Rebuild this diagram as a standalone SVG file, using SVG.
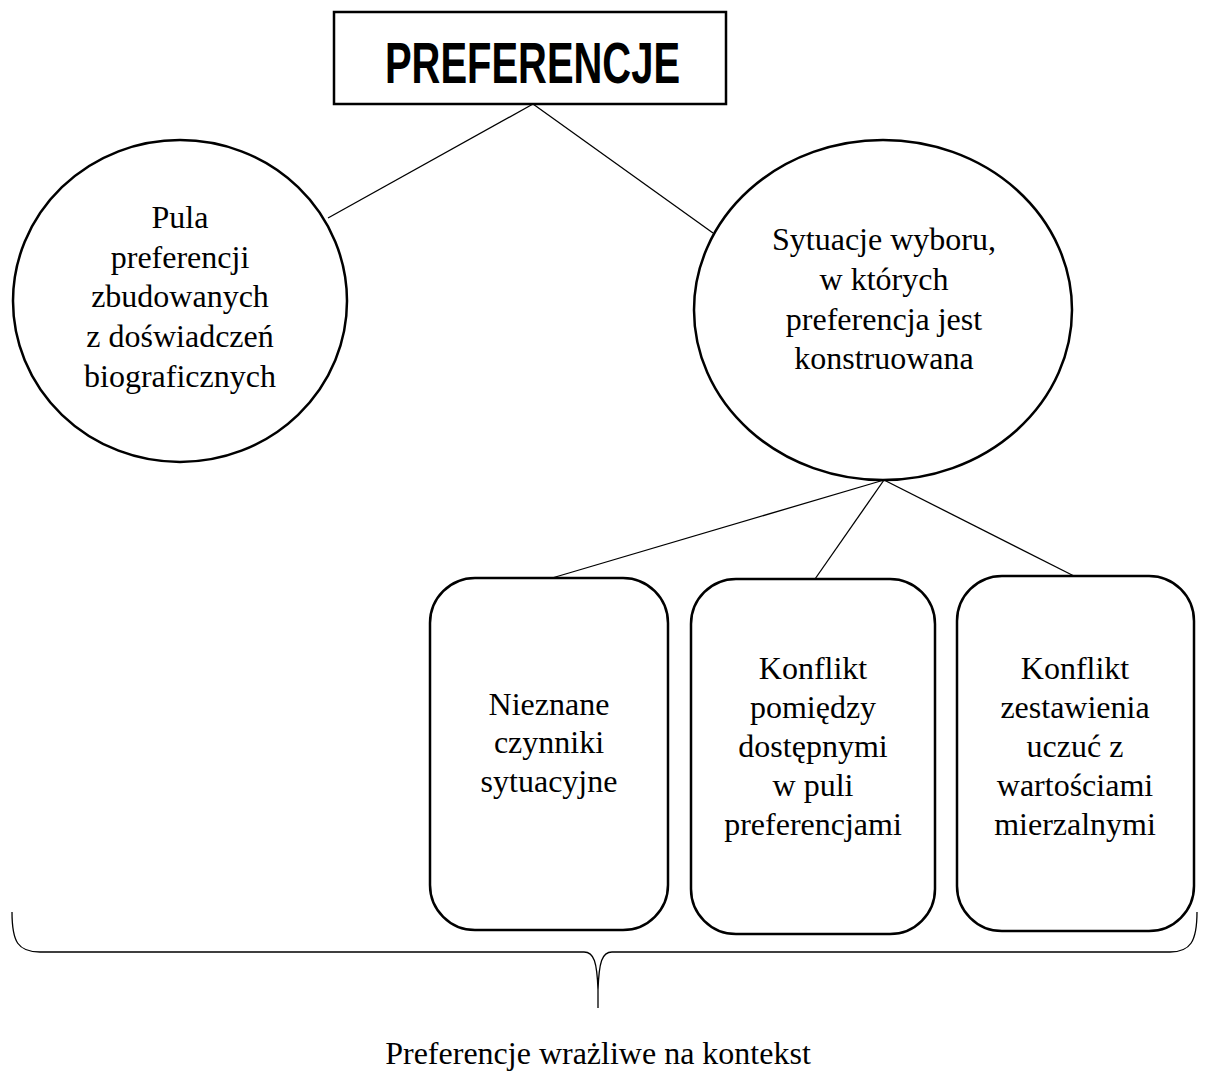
<svg xmlns="http://www.w3.org/2000/svg" width="1207" height="1072" viewBox="0 0 1207 1072">
<style>
.shape{fill:#fff;stroke:#000;stroke-width:2.5}
.conn{fill:none;stroke:#000;stroke-width:1.3}
.t{font-family:"Liberation Serif","Times New Roman",serif;font-size:32px;fill:#000;text-anchor:middle}
.title{font-family:"Liberation Sans",Arial,sans-serif;font-weight:bold;font-size:57px;fill:#000}
</style>
<rect width="1207" height="1072" fill="#fff"/>
<g id="connectors">
<line class="conn" x1="533" y1="104" x2="328" y2="218"/>
<line class="conn" x1="533" y1="104" x2="713" y2="233"/>
<line class="conn" x1="884" y1="480" x2="552" y2="578"/>
<line class="conn" x1="884" y1="480" x2="815" y2="579"/>
<line class="conn" x1="884" y1="480" x2="1074" y2="576"/>
</g>
<g id="title">
<rect class="shape" x="334" y="12" width="392" height="92"/>
<text class="title" x="385" y="83" textLength="295" lengthAdjust="spacingAndGlyphs">PREFERENCJE</text>
</g>
<g id="pula">
<ellipse class="shape" cx="180" cy="301" rx="167" ry="161"/>
<text class="t" x="180"><tspan x="180" y="228">Pula</tspan><tspan x="180" y="268">preferencji</tspan><tspan x="180" y="307">zbudowanych</tspan><tspan x="180" y="347">z doświadczeń</tspan><tspan x="180" y="387">biograficznych</tspan></text>
</g>
<g id="sytuacje">
<ellipse class="shape" cx="883" cy="310" rx="189" ry="170"/>
<text class="t"><tspan x="884" y="250">Sytuacje wyboru,</tspan><tspan x="884" y="290">w których</tspan><tspan x="884" y="330">preferencja jest</tspan><tspan x="884" y="369">konstruowana</tspan></text>
</g>
<g id="nieznane">
<rect class="shape" x="430" y="578" width="238" height="352" rx="45" ry="45"/>
<text class="t"><tspan x="549" y="715">Nieznane</tspan><tspan x="549" y="753">czynniki</tspan><tspan x="549" y="792">sytuacyjne</tspan></text>
</g>
<g id="konflikt1">
<rect class="shape" x="691" y="579" width="244" height="355" rx="45" ry="45"/>
<text class="t"><tspan x="813" y="679">Konflikt</tspan><tspan x="813" y="718">pomiędzy</tspan><tspan x="813" y="757">dostępnymi</tspan><tspan x="813" y="796">w puli</tspan><tspan x="813" y="835">preferencjami</tspan></text>
</g>
<g id="konflikt2">
<rect class="shape" x="957" y="576" width="237" height="355" rx="45" ry="45"/>
<text class="t"><tspan x="1075" y="679">Konflikt</tspan><tspan x="1075" y="718">zestawienia</tspan><tspan x="1075" y="757">uczuć z</tspan><tspan x="1075" y="796">wartościami</tspan><tspan x="1075" y="835">mierzalnymi</tspan></text>
</g>
<g id="brace">
<path class="conn" d="M12 912 C12 942 18 952 40 952 L584 952 C594 952 597 962 598 990 L598 1008 M598 990 C599 962 602 952 612 952 L1170 952 C1190 952 1197 942 1197 912"/>
<text class="t" x="598" y="1064">Preferencje wrażliwe na kontekst</text>
</g>
</svg>
